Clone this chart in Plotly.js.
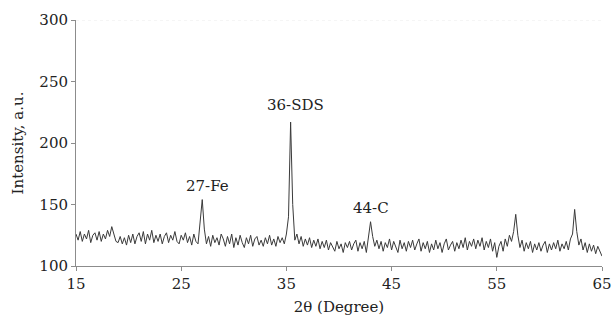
<!DOCTYPE html>
<html>
<head>
<meta charset="utf-8">
<script src="https://cdn.plot.ly/plotly-3.0.1.min.js"></script>
<style>html,body{margin:0;padding:0;background:#fff;}#chart{width:613px;height:323px;}</style>
</head>
<body>
<div id="chart"></div>
<script>
// 2θ sampling: start 15°, step 0.2°
var thetaStart = 15;
var thetaStep = 0.2;
var intensity = [
  126,121,128,120,126,122,129,119,125,127,
  121,128,120,126,122,129,124,132,126,120,
  119,124,118,123,117,125,119,126,118,124,
  127,120,128,118,126,121,129,119,125,120,
  126,118,124,127,119,125,121,128,120,118,
  125,121,127,119,124,117,126,120,118,134,
  154,130,118,124,116,125,119,123,117,126,
  122,116,124,118,126,115,123,117,125,119,
  115,123,118,125,116,122,124,117,121,116,
  123,118,125,117,122,116,124,119,123,118,
  126,140,217,150,121,126,118,124,116,122,
  117,123,115,121,116,122,114,120,115,121,
  113,119,116,112,120,114,118,111,119,115,
  120,113,118,121,112,119,114,120,111,122,
  136,124,116,121,114,120,112,119,115,122,
  113,120,115,111,121,114,119,112,120,115,
  121,113,118,122,112,119,114,120,111,118,
  113,121,114,119,111,118,122,113,117,120,
  112,119,114,121,115,123,113,120,116,122,
  114,121,116,123,113,120,115,122,112,119,
  107,116,120,112,122,116,125,120,128,142,
  125,115,121,112,119,114,120,111,118,113,
  119,112,117,120,111,118,113,119,114,121,
  112,118,114,120,113,122,126,146,128,117,
  122,113,119,111,118,112,117,110,116,112,
  108
];
var peakLabels = ["27-Fe", "36-SDS", "44-C"];
var peakLabelX = [27.5, 35.85, 43.0];
var peakLabelY = [165, 231, 147];
var xTicks = [15, 25, 35, 45, 55, 65];
var yTicks = [100, 150, 200, 250, 300];

var fam = "DejaVu Serif, serif";
var txt = {family: fam, size: 15, color: "#222"};

var annotations = peakLabels.map(function (t, i) {
  return {x: peakLabelX[i], y: peakLabelY[i], text: t, showarrow: false,
          xref: "x", yref: "y", font: txt};
});

Plotly.newPlot("chart", [{
  type: "scatter", mode: "lines",
  x0: thetaStart, dx: thetaStep, y: intensity,
  line: {color: "#3a3a3a", width: 1},
  hoverinfo: "skip"
}], {
  width: 613, height: 323,
  margin: {l: 76, r: 11, t: 20, b: 57},
  paper_bgcolor: "#fff", plot_bgcolor: "#fff",
  showlegend: false,
  font: txt,
  xaxis: {
    range: [15, 65], tickvals: xTicks, ticktext: xTicks.map(String),
    showline: true, linecolor: "#8c8c8c", linewidth: 1,
    ticks: "outside", ticklen: 4, tickcolor: "#8c8c8c",
    showgrid: false, zeroline: false,
    tickfont: txt,
    title: {text: "2θ (Degree)", font: txt, standoff: 9}
  },
  yaxis: {
    range: [100, 300], tickvals: yTicks, ticktext: yTicks.map(String),
    showline: true, linecolor: "#8c8c8c", linewidth: 1,
    ticks: "outside", ticklen: 4, tickcolor: "#8c8c8c",
    showgrid: false, zeroline: false,
    tickfont: txt,
    title: {text: "Intensity, a.u.", font: txt, standoff: 12}
  },
  shapes: [{type: "line", xref: "paper", yref: "y", x0: 0, x1: 1, y0: 300, y1: 300,
            line: {color: "#ececec", width: 1, dash: "dot"}}],
  annotations: annotations
}, {displayModeBar: false, staticPlot: true});
</script>
</body>
</html>
